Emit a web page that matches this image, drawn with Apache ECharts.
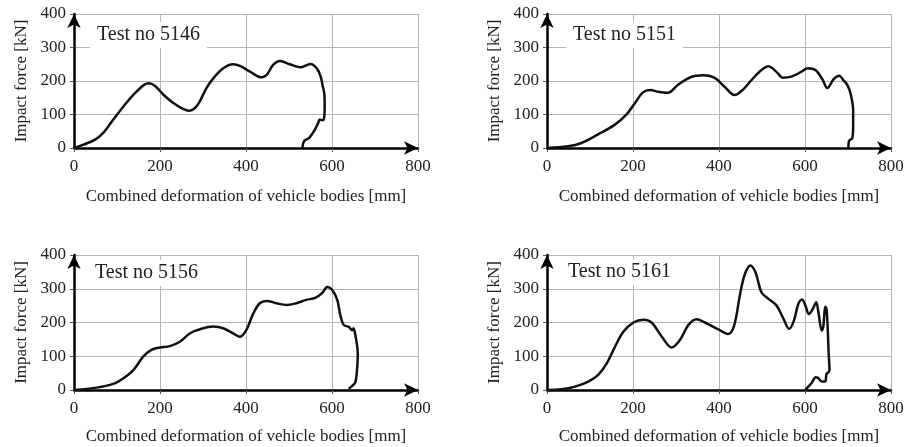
<!DOCTYPE html>
<html>
<head>
<meta charset="utf-8">
<script src="https://cdn.jsdelivr.net/npm/echarts@6/dist/echarts.min.js"></script>
<style>
html,body{margin:0;padding:0;background:#fff;}
#c{width:916px;height:447px;}
</style>
</head>
<body>
<div id="c"></div>
<script>
// ---- Data (deformation [mm], impact force [kN]) ----
var titles = ['Test no 5146', 'Test no 5151', 'Test no 5156', 'Test no 5161'];
var xTicks = [0, 200, 400, 600, 800];
var yTicks = [0, 100, 200, 300, 400];

var test5146 = [[0,0],[22,10],[49,25],[68,45],[91,84],[115,124],[146,169],[173,193],[188,186],[208,159],[231,134],[253,117],[267,111],[280,118],[292,138],[308,179],[324,208],[347,238],[370,250],[386,245],[409,228],[436,211],[448,218],[463,248],[479,260],[502,250],[526,241],[550,251],[565,237],[574,212],[578,187],[582,163],[583,124],[581,85],[577,83],[571,85],[568,75],[558,50],[547,30],[535,20],[531,0]];

var test5151 = [[0,0],[49,5],[80,15],[118,40],[157,69],[184,99],[204,133],[223,166],[240,173],[258,168],[281,165],[304,188],[335,212],[362,217],[389,210],[413,183],[436,158],[455,173],[475,202],[498,232],[515,244],[533,228],[549,210],[568,213],[591,227],[606,238],[625,232],[640,206],[652,179],[667,206],[680,216],[690,201],[698,189],[706,162],[712,112],[712,64],[710,30],[702,20],[701,0]];

var test5156 = [[0,0],[53,7],[91,18],[115,35],[138,59],[161,99],[180,119],[200,126],[223,130],[246,143],[270,168],[293,180],[324,188],[347,183],[370,168],[386,158],[401,178],[417,227],[432,257],[448,264],[471,257],[494,252],[517,257],[540,267],[561,273],[577,287],[589,305],[600,297],[612,268],[619,224],[627,193],[639,187],[647,177],[650,183],[654,165],[660,106],[658,57],[654,22],[647,12],[639,3]];

var test5161 = [[0,0],[34,2],[65,10],[96,25],[119,45],[139,79],[158,128],[178,173],[201,200],[224,208],[243,200],[267,158],[290,126],[309,148],[329,193],[348,210],[367,200],[398,180],[421,166],[435,190],[449,284],[460,343],[473,369],[485,348],[499,289],[515,270],[534,250],[550,211],[563,181],[574,205],[585,257],[593,268],[601,250],[609,225],[618,240],[626,260],[631,232],[639,176],[643,192],[647,247],[650,240],[653,176],[655,108],[657,59],[654,52],[650,48],[647,25],[639,25],[630,36],[625,38],[615,20],[604,5],[601,0]];

var seriesData = [test5146, test5151, test5156, test5161];
var xName = 'Combined deformation of vehicle bodies [mm]';
var yName = 'Impact force [kN]';

// ---- Layout ----
var FONT = '"Liberation Serif", "DejaVu Serif", serif';
var grids = [
  {left: 74, top: 14, width: 344, height: 134},
  {left: 547, top: 14, width: 344, height: 134},
  {left: 74, top: 255, width: 344, height: 135},
  {left: 547, top: 255, width: 344, height: 135}
];
var titlePos = [
  {left: 90, top: 22},
  {left: 566, top: 22},
  {left: 88, top: 260},
  {left: 561, top: 259}
];
var xNameGaps = [40, 40, 38, 38];

var option = {
  backgroundColor: '#fff',
  animation: false,
  title: [], grid: [], xAxis: [], yAxis: [], series: []
};

for (var i = 0; i < 4; i++) {
  option.grid.push(grids[i]);
  option.title.push({
    text: titles[i], left: titlePos[i].left, top: titlePos[i].top,
    backgroundColor: '#fff', padding: [3, 7, 3, 7],
    textStyle: {fontFamily: FONT, fontSize: 20, fontWeight: 'normal', color: '#222'}
  });
  option.xAxis.push({
    type: 'value', gridIndex: i, min: xTicks[0], max: xTicks[xTicks.length - 1],
    interval: xTicks[1] - xTicks[0],
    name: xName, nameLocation: 'middle', nameGap: xNameGaps[i],
    nameTextStyle: {fontFamily: FONT, fontSize: 17, color: '#222'},
    axisLine: {show: true, onZero: false, symbol: ['none', 'arrow'], symbolSize: [10, 14],
      lineStyle: {color: '#000', width: 2.5}},
    axisTick: {show: true, length: 4, lineStyle: {color: '#555', width: 1}},
    axisLabel: {fontFamily: FONT, fontSize: 17, color: '#222', margin: 10},
    splitLine: {show: true, lineStyle: {color: '#b4b4b4', width: 1}}
  });
  option.yAxis.push({
    type: 'value', gridIndex: i, min: yTicks[0], max: yTicks[yTicks.length - 1],
    interval: yTicks[1] - yTicks[0],
    name: yName, nameLocation: 'middle', nameGap: 44,
    nameTextStyle: {fontFamily: FONT, fontSize: 17, color: '#222'},
    axisLine: {show: true, onZero: false, symbol: ['none', 'arrow'], symbolSize: [10, 14],
      lineStyle: {color: '#000', width: 2.5}},
    axisTick: {show: true, length: 4, lineStyle: {color: '#555', width: 1}},
    axisLabel: {fontFamily: FONT, fontSize: 17, color: '#222', margin: 8},
    splitLine: {show: true, lineStyle: {color: '#b4b4b4', width: 1}}
  });
  option.series.push({
    type: 'line', xAxisIndex: i, yAxisIndex: i, data: seriesData[i],
    showSymbol: false, smooth: 0.35, clip: false,
    lineStyle: {color: '#111', width: 2.5}
  });
}

var chart = echarts.init(document.getElementById('c'), null, {renderer: 'canvas'});
chart.setOption(option);
</script>
</body>
</html>
